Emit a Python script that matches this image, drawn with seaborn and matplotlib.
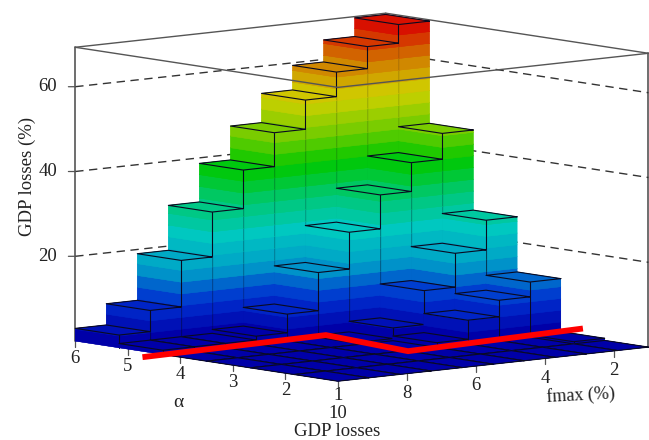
import matplotlib
matplotlib.use("Agg")
import matplotlib.pyplot as plt
import numpy as np
import seaborn as sns
from mpl_toolkits.mplot3d import proj3d

# GDP losses (%) per cell, rows go alpha 6 -> 1, columns go fmax 10 -> 1
heights_a6 = [3, 8, 19, 29.6, 38.7, 46.7, 53.6, 59.4, 64.6, 69]
heights_a5 = [1, 1, 1, 1.9, 6.3, 15.3, 24, 32, 38.8, 44.9]
heights_a4 = [0, 0, 0, 0, 0, 0.5, 3, 11, 19, 26]
heights_a3 = [0, 0, 0, 0, 0, 0, 1.1, 5.6, 9.5, 13]
heights_a2 = [0, 0, 0, 0, 0, 0, 0, 0, 0, 0.5]
heights_a1 = [0, 0, 0, 0, 0, 0, 0, 0, 0, 0]
heights = [heights_a1, heights_a2, heights_a3, heights_a4, heights_a5, heights_a6]

alpha_ticks = [6, 5, 4, 3, 2, 1]
fmax_ticks = [8, 6, 4, 2]
z_ticks = [20, 40, 60]

# red line
red_fmax = [10.64, 5.11, 5.5, 0.05]
red_alpha = [4.3, 4.44, 2.62, 2.87]

sns.set_theme(style="white")
plt.rcParams["font.family"] = ["Liberation Serif", "DejaVu Serif"]

z_top = 69.3
n_bands = 25
band = z_top / n_bands
cols = ["#0000a8", "#0030d0", "#00a0c8", "#00c8c0", "#00c870", "#00c800", "#7acc00", "#d0d000", "#d08000", "#d81000"]
palette = sns.blend_palette(cols, n_colors=n_bands)

fig = plt.figure(figsize=(6.49, 4.40), dpi=100)
# axes bigger than the figure so nothing gets clipped at its square box
ax = fig.add_axes([(351 - 400) / 649, (232 - 400) / 440, 800 / 649, 800 / 440], projection="3d", computed_zorder=False)
ax.set_proj_type("ortho")
ax.view_init(elev=7.44, azim=-130.3)
ax.set_box_aspect((406, 405, 295.5), zoom=0.785)
ax.set_axis_off()
ax.patch.set_alpha(0)

frame = "#555555"
# back of the box and the dashed lines on the walls
ax.plot([10, 1], [6, 6], [z_top, z_top], color=frame, lw=1, zorder=1)
ax.plot([1, 1], [6, 1], [z_top, z_top], color=frame, lw=1, zorder=1)
ax.plot([10, 10], [6, 6], [0, z_top], color=frame, lw=1.2, zorder=1)
ax.plot([1, 1], [1, 1], [0, z_top], color=frame, lw=1.2, zorder=1)
for z in z_ticks:
    ax.plot([10, 1], [6, 6], [z, z], color="#333333", lw=1, ls=(0, (6, 4)), zorder=1)
    ax.plot([1, 1], [6, 1], [z, z], color="#333333", lw=1, ls=(0, (6, 4)), zorder=1)

# bars, painted from the back corner forward
dx = 0.9
dy = 5 / 6
order = 2
for j in range(5, -1, -1):
    for i in range(9, -1, -1):
        h = heights[j][i]
        x0 = 10 - dx * (i + 1)
        y0 = 1 + dy * j
        k = 0
        while k * band < h or k == 0:
            lo = k * band
            hi = min(h, (k + 1) * band)
            c = palette[k]
            ax.bar3d(x0, y0, lo, dx, dy, hi - lo, color=c, shade=False, edgecolor=c, linewidth=0.25, zorder=order)
            order += 1
            k += 1
        xs = [x0, x0 + dx, x0 + dx, x0, x0]
        ys = [y0, y0, y0 + dy, y0 + dy, y0]
        ax.plot(xs, ys, [h] * 5, color="#0a0a20", lw=0.8, zorder=order)
        if h > 0:
            ax.plot([x0 + dx, x0 + dx], [y0, y0], [0, h], color="#0a0a20", lw=0.8, zorder=order)
        order += 1

# front of the box lies over the bars
ax.plot([10, 10], [6, 1], [z_top, z_top], color=frame, lw=1, zorder=order)
ax.plot([10, 1], [1, 1], [z_top, z_top], color=frame, lw=1, zorder=order)
order += 1

ax.plot(red_fmax, red_alpha, [0, 0, 0, 0], color="#ff0000", lw=4.2, solid_capstyle="butt",
        solid_joinstyle="miter", zorder=order)
order += 1

ax.set_xlim(10, 1, view_margin=0)
ax.set_ylim(1, 6, view_margin=0)
ax.set_zlim(0, z_top, view_margin=0)

fs = 13.5
tc = "#222222"


def tick_label(x, y, z, s):
    # project by hand so the label is a plain 2d annotation
    px, py, _ = proj3d.proj_transform(x, y, z, ax.get_proj())
    ax.annotate(s, (px, py), ha="center", va="center", fontsize=fs, color=tc, zorder=order, annotation_clip=False)


# ticks and labels
for a in alpha_ticks:
    ax.plot([10, 10], [a, a], [0, -1.4], color=frame, lw=0.9, zorder=0)
    if a == 1:
        tick_label(10, a, -3.4, str(a))
    else:
        tick_label(10, a, -4.0, str(a))
for f in fmax_ticks:
    ax.plot([f, f], [1, 1], [0, -1.4], color=frame, lw=0.9, zorder=0)
    tick_label(f, 1, -4.7, str(f))
tick_label(10, 1, -7.7, "10")
for z in z_ticks:
    ax.plot([10, 10], [6, 6.13], [z, z - 0.25], color=frame, lw=0.9, zorder=1)
    tick_label(10, 6.52, z - 1.0, str(z))

ax.set_xlim(10, 1, view_margin=0)
ax.set_ylim(1, 6, view_margin=0)
ax.set_zlim(0, z_top, view_margin=0)

fig.text(27 / 649, 1 - 176 / 440, "GDP losses (%)", rotation=90, ha="center", va="center", fontsize=13.5, color=tc)
fig.text(337 / 649, 1 - 431 / 440, "GDP losses", ha="center", va="center", fontsize=13.5, color=tc)
fig.text(581 / 649, 1 - 395 / 440, "fmax (%)", rotation=3, ha="center", va="center", fontsize=13, color=tc)
fig.text(178 / 649, 1 - 402 / 440, "α", ha="center", va="center", fontsize=14, color=tc)

fig.savefig("out.png", dpi=100)
